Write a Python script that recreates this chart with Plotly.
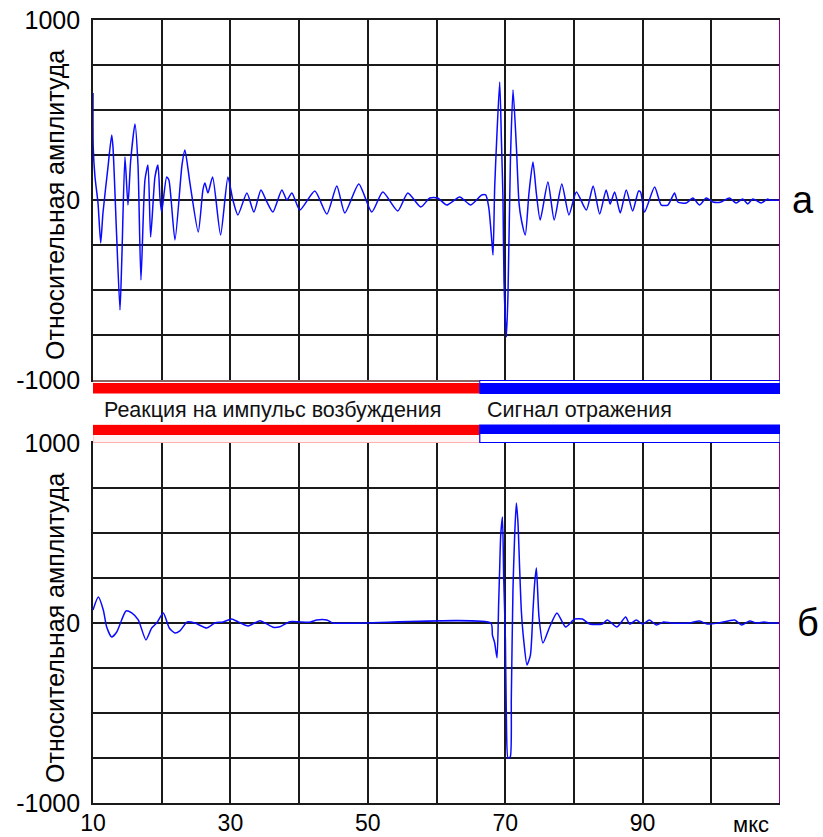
import plotly.graph_objects as go

# ---------------- data ----------------
# upper trace (а): time, microseconds / relative amplitude
t_a = [10.0, 10.03, 10.29, 10.73, 11.12, 11.45, 12.18, 12.72, 12.91, 13.45, 13.93, 14.22, 14.65, 15.09,
       15.48, 16.11, 16.55, 16.98, 17.56, 18.0, 18.39, 19.02, 19.45, 19.75, 19.99, 20.72, 21.05, 21.93,
       22.95, 23.38, 24.11, 25.32, 26.0, 26.29, 26.73, 27.41, 28.57, 29.64, 30.36, 31.09, 32.4, 33.42,
       34.44, 35.31, 36.18, 37.49, 38.22, 38.95, 40.11, 42.29, 44.04, 45.49, 46.65, 48.69, 50.58, 52.18,
       54.36, 55.82, 57.71, 59.02, 60.18, 61.49, 63.38, 64.98, 66.58, 67.16, 67.6, 68.04, 68.23, 68.47,
       68.76, 69.2, 69.45, 69.68, 69.83, 70.17, 70.41, 70.76, 71.14, 71.63, 72.01, 72.36, 72.92, 73.46,
       74.04, 74.53, 75.09, 76.22, 77.13, 78.24, 79.28, 80.36, 81.81, 82.8, 83.75, 84.69, 85.27, 85.93,
       86.75, 87.62, 88.55, 89.42, 89.71, 90.29, 91.75, 92.72, 93.68, 94.65, 95.13, 96.35, 97.32, 98.29,
       99.26, 100.22, 101.44, 102.65, 103.62, 104.58, 105.31, 106.04, 107.26, 108.22, 108.47, 110.0]
amp_a = [594, 294, 128, -17, -239, -72, 183, 361, 294, -206, -611, -294, 239, -28,
         217, 422, 194, -444, 111, 194, -206, 128, 194, 11, -67, 128, 111, -222,
         194, 278, 94, -178, 56, 94, 39, 128, -194, 128, 0, -83, 39, -67,
         56, -11, -67, 56, 0, 39, -56, 50, -78, 78, -72, 89, -67, 44,
         -61, 39, -39, 11, 11, -28, 17, -28, 28, 28, -39, -222, -306, 72,
         333, 656, 333, 0, -456, -761, -517, 222, 611, 294, -17, -111, -194, 39,
         211, 39, -111, 100, -111, 89, -83, 44, -56, 78, -78, 56, -22, 44,
         -72, 56, -61, 50, 44, -67, 72, -28, -28, 39, -11, -17, 11, -28,
         11, -11, -11, 11, -17, 6, -22, 6, -17, 6, 0, 0]

# lower trace (б)
t_b = [10.0, 10.77, 11.5, 11.99, 12.72, 13.45, 14.17, 14.8, 15.63, 16.59, 17.71, 18.54, 19.27, 20.23,
       21.1, 21.93, 22.65, 23.72, 24.84, 26.54, 27.75, 28.95, 30.17, 31.13, 32.59, 34.29, 36.23, 37.2,
       38.65, 41.56, 42.58, 44.04, 44.9, 67.9, 68.14, 68.47, 68.81, 69.05, 69.2, 69.35, 69.6, 69.78,
       70.03, 70.17, 70.41, 70.73, 70.89, 71.13, 71.37, 71.62, 71.86, 72.11, 72.36, 72.69, 73.17, 73.67,
       74.05, 74.29, 74.54, 74.92, 75.5, 76.47, 77.53, 78.8, 80.11, 81.23, 82.29, 84.14, 84.87, 86.27,
       87.53, 88.11, 89.08, 90.0, 91.0, 92.0, 93.05, 94.2, 96.8, 98.3, 99.4, 101.0, 103.4, 104.4,
       105.6, 106.6, 107.7, 108.5, 110.0]
amp_b = [72, 144, 72, -22, -78, -50, 17, 67, 56, 17, -94, -28, 0, 56,
         -28, -56, -44, 6, 0, -28, 0, 6, 22, 6, -17, 13, -24, -21,
         7, 4, 17, 17, 0, 0, -67, -111, -194, 111, 306, 489, 589, 256,
         -94, -528, -750, -744, -417, 183, 478, 667, 556, 294, 61, -94, -233, -178,
         72, 222, 306, 33, -111, -22, 56, -22, 22, 22, -6, -6, 17, -22,
         33, -6, 17, -6, 17, -11, 6, 0, 0, 11, -6, 0, 17, -11,
         11, 0, 6, 0, 0]

x_ticks = [10, 20, 30, 40, 50, 60, 70, 80, 90, 100, 110]
x_ticktext = ["10", "", "30", "", "50", "", "70", "", "90", "", ""]
y_ticks = [-1000, -750, -500, -250, 0, 250, 500, 750, 1000]
y_ticktext = ["-1000", "", "", "", "0", "", "", "", "1000"]
x_range = [10, 110]
y_range = [-1000, 1000]
boundary = 66.3          # start of the reflected-signal window, microseconds
segment_labels = ["Реакция на импульс возбуждения", "Сигнал отражения"]
panel_labels = ["а", "б"]
y_title = "Относительная амплитуда"
unit_label = "мкс"

# ---------------- figure ----------------
W, H = 823, 837
PLOT_L, PLOT_R, PLOT_T, PLOT_B = 93, 780, 20, 803   # plot area in page pixels
ML, MT, MR, MB = PLOT_L, PLOT_T, W - PLOT_R, H - PLOT_B
PH = PLOT_B - PLOT_T
PW = PLOT_R - PLOT_L


def py2paper(py):
    return (PLOT_B - py) / PH


def px2paper(px):
    return (px - PLOT_L) / PW


FONT = "Liberation Sans, Arial, sans-serif"
LINE_BLUE = "#0a0aff"
trace_line = dict(color=LINE_BLUE, width=1.5, shape="spline", smoothing=0.6)

fig = go.Figure()
fig.add_trace(go.Scatter(x=t_a, y=amp_a, mode="lines", xaxis="x", yaxis="y",
                         line=trace_line, showlegend=False, hoverinfo="skip"))
fig.add_trace(go.Scatter(x=t_b, y=amp_b, mode="lines", xaxis="x2", yaxis="y2",
                         line=trace_line, showlegend=False, hoverinfo="skip"))

grid = dict(showgrid=True, gridcolor="#1a1a1a", gridwidth=1.6, zeroline=False, automargin=False)
xcommon = dict(range=x_range, tickmode="array", tickvals=x_ticks, ticks="",
               showline=True, linecolor="#1a1a1a", linewidth=1.6, mirror=True, **grid)
ycommon = dict(range=y_range, tickmode="array", tickvals=y_ticks, ticktext=y_ticktext, ticks="",
               showline=True, linecolor="#1a1a1a", linewidth=1.6, ticklabeloverflow="allow",
               tickfont=dict(family=FONT, size=25, color="black"), ticklabelstandoff=6, **grid)

top_dom = [py2paper(380), 1.0]
bot_dom = [0.0, py2paper(443)]

fig.update_layout(
    width=W, height=H,
    margin=dict(l=ML, r=MR, t=MT, b=MB, autoexpand=False),
    paper_bgcolor="white", plot_bgcolor="white",
    font=dict(family=FONT, color="black"),
    xaxis=dict(anchor="y", ticktext=[""] * len(x_ticks), showticklabels=False, **xcommon),
    yaxis=dict(anchor="x", domain=top_dom, **ycommon),
    xaxis2=dict(anchor="y2", ticktext=x_ticktext, showticklabels=True, ticklabeloverflow="allow",
                tickfont=dict(family=FONT, size=23, color="black"), ticklabelstandoff=-1, **xcommon),
    yaxis2=dict(anchor="x2", domain=bot_dom, **ycommon),
)

shapes = []
# purple right borders
for yref in ["y", "y2"]:
    shapes.append(dict(type="line", xref="x", yref=yref, x0=x_range[1], x1=x_range[1],
                       y0=y_range[0], y1=y_range[1], line=dict(color="#8b008b", width=2)))

RED, BLUE = "#ff0000", "#0000ff"
# upper separator bar (below panel а)
shapes += [
    dict(type="rect", xref="x", yref="paper", x0=x_range[0], x1=boundary,
         y0=py2paper(381.5), y1=py2paper(380.5), fillcolor="#ffb0b0", line=dict(width=0), layer="above"),
    dict(type="rect", xref="x", yref="paper", x0=x_range[0], x1=boundary,
         y0=py2paper(393.5), y1=py2paper(383), fillcolor=RED, line=dict(width=0), layer="above"),
    dict(type="rect", xref="x", yref="paper", x0=boundary, x1=x_range[1],
         y0=py2paper(393.5), y1=py2paper(380.5), fillcolor="white",
         line=dict(color=BLUE, width=1), layer="above"),
    dict(type="rect", xref="x", yref="paper", x0=boundary, x1=x_range[1],
         y0=py2paper(393.5), y1=py2paper(383), fillcolor=BLUE, line=dict(width=0), layer="above"),
]
# lower separator bar (above panel б)
shapes += [
    dict(type="rect", xref="x", yref="paper", x0=x_range[0], x1=boundary,
         y0=py2paper(442.5), y1=py2paper(425), fillcolor="#fff4f4",
         line=dict(color="#ffb0b0", width=1), layer="above"),
    dict(type="rect", xref="x", yref="paper", x0=x_range[0], x1=boundary,
         y0=py2paper(435), y1=py2paper(425), fillcolor=RED, line=dict(width=0), layer="above"),
    dict(type="rect", xref="x", yref="paper", x0=boundary, x1=x_range[1],
         y0=py2paper(442.5), y1=py2paper(425), fillcolor="white",
         line=dict(color=BLUE, width=1.2), layer="above"),
    dict(type="rect", xref="x", yref="paper", x0=boundary, x1=x_range[1],
         y0=py2paper(434), y1=py2paper(425), fillcolor=BLUE, line=dict(width=0), layer="above"),
]
fig.update_layout(shapes=shapes)

ann = []
ann.append(dict(text=segment_labels[0], xref="x", yref="paper", x=11.3, y=py2paper(410),
                xanchor="left", yanchor="middle", showarrow=False,
                font=dict(family=FONT, size=21.5, color="#111")))
ann.append(dict(text=segment_labels[1], xref="x", yref="paper", x=boundary + 0.8, y=py2paper(410),
                xanchor="left", yanchor="middle", showarrow=False,
                font=dict(family=FONT, size=21.5, color="#111")))
ann.append(dict(text=panel_labels[0], xref="paper", yref="y", x=px2paper(803), y=0,
                xanchor="center", yanchor="middle", showarrow=False,
                font=dict(family=FONT, size=38, color="black")))
ann.append(dict(text=panel_labels[1], xref="paper", yref="y2", x=px2paper(808), y=0,
                xanchor="center", yanchor="middle", showarrow=False,
                font=dict(family=FONT, size=38, color="black")))
for pyc in (205, 628):
    ann.append(dict(text=y_title, xref="paper", yref="paper", x=px2paper(55), y=py2paper(pyc),
                    xanchor="center", yanchor="middle", textangle=-90, showarrow=False,
                    font=dict(family=FONT, size=25, color="black")))
ann.append(dict(text=unit_label, xref="x2", yref="paper", x=105.8, y=py2paper(824),
                xanchor="center", yanchor="middle", showarrow=False,
                font=dict(family=FONT, size=22, color="black")))
fig.update_layout(annotations=ann)

# remove the default page margin so the figure sits at the window's top-left corner
fig.write_html("out.html",
               config={"displayModeBar": False},
               post_script="document.body.style.margin='0';document.body.style.overflow='hidden';")
